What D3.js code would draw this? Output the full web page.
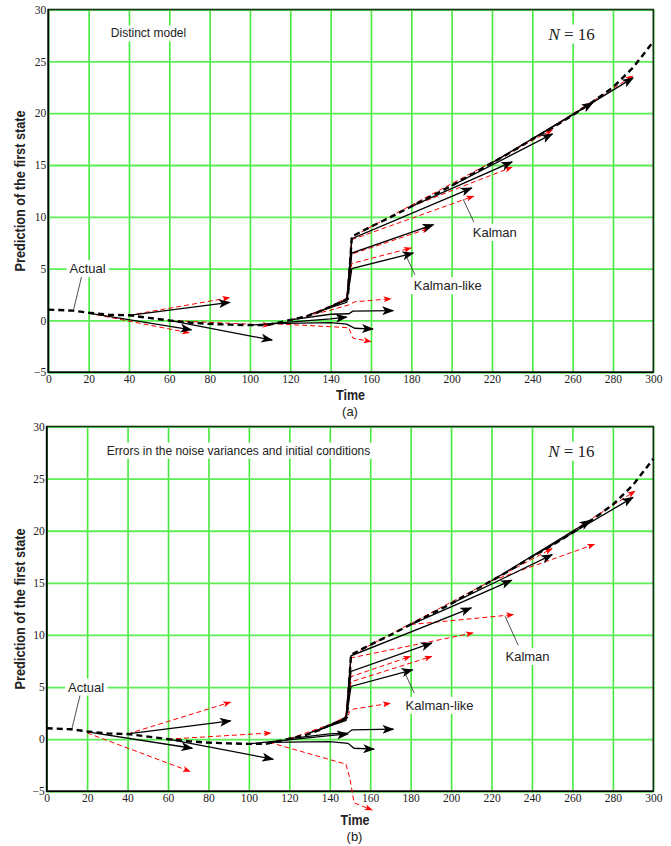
<!DOCTYPE html>
<html>
<head>
<meta charset="utf-8">
<script src="https://cdn.jsdelivr.net/npm/d3@7"></script>
<style>
body { margin: 0; background: #fff; }
svg { display: block; }
.lbl { font-family: "Liberation Sans", Arial, sans-serif; fill: #222; }
</style>
</head>
<body>
<div id="chart"></div>
<script>
var width = 671, height = 846;

var xTicks = d3.range(0, 301, 20);
var yTicks = [-5, 0, 5, 10, 15, 20, 25, 30];

// actual first state (dashed)
var actual = [[0,1.05],[12,0.95],[20,0.75],[30,0.55],[40,0.5],[50,0.25],[60,0.0],[70,-0.2],
  [80,-0.33],[90,-0.4],[100,-0.45],[108,-0.45],[114,-0.22],[120,0.05],[128,0.4],[135,0.9],
  [140,1.35],[145,1.75],[148.5,2.1],[150.5,8.1],[160,9.05],[170,10.0],[180,11.0],[190,12.0],
  [200,13.0],[210,14.1],[220,15.2],[230,16.3],[240,17.5],[250,18.6],[260,19.8],[270,21.1],
  [280,22.5],[290,24.4],[300,26.9]];

// (a) Kalman-like predictions, black solid
var kalmanLikeA = [
  [[20,0.7],[71,-0.9]],
  [[40,0.5],[90,1.75]],
  [[60,0.0],[111,-1.9]],
  [[100,-0.45],[140,0.15],[148,0.33]],
  [[110,-0.3],[140,-0.2],[148,-0.35],[152,-0.75],[161,-0.83]],
  [[120,0.05],[140,0.6],[149,0.65],[151,0.9],[171,0.95]],
  [[130,0.6],[148,1.75],[150.5,5.0],[181,6.5]],
  [[140,1.35],[148,1.95],[150.5,6.5],[191,9.25]],
  [[135,0.9],[148,2.0],[150.5,7.9],[210,12.8]],
  [[180,11.0],[230,15.3]],
  [[200,13.0],[250,18.0]],
  [[220,15.2],[270,21.0]],
  [[240,17.5],[290,23.4]]
];

// (a) Kalman predictions, red dashed
var kalmanA = [
  [[20,0.7],[70,-1.2]],
  [[40,0.5],[90,2.2]],
  [[60,0.0],[110,-0.45]],
  [[110,-0.3],[140,-0.6],[149,-0.7],[151,-1.7],[160,-2.05]],
  [[120,0.05],[140,1.0],[149,1.5],[152,1.8],[170,2.1]],
  [[130,0.6],[148,2.0],[150.5,5.5],[180,7.0]],
  [[140,1.35],[148,2.2],[150.5,6.4],[189,8.9]],
  [[135,0.9],[148,2.1],[150.5,7.8],[211,12.0]],
  [[180,11.0],[230,14.8]],
  [[145,1.75],[148,2.05],[150.5,8.05],[250,18.4]],
  [[220,15.2],[270,21.0]],
  [[240,17.5],[290,23.6]]
];

// (b) Kalman-like predictions, black solid
var kalmanLikeB = [
  [[20,0.7],[72,-0.87]],
  [[40,0.5],[91,1.76]],
  [[60,0.0],[112,-1.92]],
  [[100,-0.45],[140,0.35],[149,0.5]],
  [[110,-0.3],[140,-0.23],[149,-0.4],[152,-0.87],[162,-0.96]],
  [[120,0.05],[140,0.5],[149,0.6],[151,0.9],[171.5,0.96]],
  [[130,0.6],[148,1.8],[150.5,5.06],[181,6.66]],
  [[140,1.35],[148,2.0],[150.5,6.5],[190.5,9.23]],
  [[135,0.9],[148,2.0],[150.5,8.0],[210,12.6]],
  [[180,11.0],[230,15.25]],
  [[200,13.0],[250,17.7]],
  [[220,15.2],[269,21.0]],
  [[240,17.5],[290,23.2]]
];

// (b) Kalman predictions, red dashed
var kalmanB = [
  [[20,0.6],[71,-3.1]],
  [[40,0.5],[91,3.56]],
  [[60,0.0],[111,0.6]],
  [[110,-0.3],[148,-2.4],[150,-3.8],[152,-6.1],[161,-6.8]],
  [[120,0.05],[140,1.4],[148,1.9],[150,2.7],[152,2.9],[170,3.45]],
  [[130,0.6],[148,1.9],[150.5,6.0],[180,7.95]],
  [[140,1.35],[148,2.2],[150.5,5.5],[190.5,7.95]],
  [[135,0.9],[148,2.1],[150.5,7.8],[211,10.2]],
  [[180,11.0],[231,11.95]],
  [[145,1.75],[148,2.05],[150.5,8.05],[250,18.3]],
  [[220,15.2],[271,18.7]],
  [[240,17.5],[291,23.8]]
];

var panels = [
  { left: 48.3, right: 653.3, top: 9.5, bottom: 372.3, title: "Distinct model", titleT: 31,
    kl: kalmanLikeA, k: kalmanA, tag: "(a)", timeX: 350.5, timeY: 400, tagY: 416 },
  { left: 46.7, right: 653.3, top: 426.5, bottom: 791.3, title: "Errors in the noise variances and initial conditions", titleT: 29.7,
    kl: kalmanLikeB, k: kalmanB, tag: "(b)", timeX: 355, timeY: 825, tagY: 841 }
];

var svg = d3.select("#chart").append("svg")
    .attr("width", width)
    .attr("height", height);

svg.append("rect").attr("width", width).attr("height", height).attr("fill", "#fff");

var defs = svg.append("defs");
defs.append("marker")
    .attr("id", "headK")
    .attr("viewBox", "0 0 12 9")
    .attr("markerWidth", 12).attr("markerHeight", 9)
    .attr("refX", 11).attr("refY", 4.5)
    .attr("orient", "auto")
    .attr("markerUnits", "userSpaceOnUse")
  .append("path")
    .attr("d", "M0,0 L12,4.5 L0,9 L3,4.5 Z")
    .attr("fill", "#000");
defs.append("marker")
    .attr("id", "headR")
    .attr("viewBox", "0 0 8 6")
    .attr("markerWidth", 8).attr("markerHeight", 6)
    .attr("refX", 7.5).attr("refY", 3)
    .attr("orient", "auto")
    .attr("markerUnits", "userSpaceOnUse")
  .append("path")
    .attr("d", "M0,0 L8,3 L0,6 L2,3 Z")
    .attr("fill", "#f00");

function addLabel(g, txt, x, y, size, anchor) {
  var t = g.append("text")
      .attr("class", "lbl")
      .attr("x", x).attr("y", y)
      .attr("text-anchor", anchor || "start")
      .style("font-size", size + "px")
      .text(txt);
  var b = t.node().getBBox();
  g.insert("rect", function() { return t.node(); })
      .attr("x", b.x - 3).attr("y", b.y - 1)
      .attr("width", b.width + 6).attr("height", b.height + 2)
      .attr("fill", "#fff");
  return t;
}

function serifTicks(s) {
  s.select(".domain").remove();
  s.selectAll("text")
      .style("font-family", "'Liberation Serif','Times New Roman',serif")
      .style("font-size", "11.5px")
      .attr("fill", "#222");
}

panels.forEach(function(p, pi) {
  var x = d3.scaleLinear().domain([0, 300]).range([p.left, p.right]);
  var y = d3.scaleLinear().domain([-5, 30]).range([p.bottom, p.top]);
  var g = svg.append("g");
  var h = p.bottom - p.top, w = p.right - p.left;

  // grid
  g.append("g")
      .attr("transform", "translate(0," + p.bottom + ")")
      .call(d3.axisBottom(x).tickValues(xTicks).tickSize(-h).tickFormat(""))
      .call(function(s) {
        s.select(".domain").remove();
        s.selectAll("line").attr("stroke", "#46ea3c").attr("stroke-width", 1.6);
      });
  g.append("g")
      .attr("transform", "translate(" + p.left + ",0)")
      .call(d3.axisLeft(y).tickValues(yTicks).tickSize(-w).tickFormat(""))
      .call(function(s) {
        s.select(".domain").remove();
        s.selectAll("line").attr("stroke", "#5cee55").attr("stroke-width", 1.8);
      });

  // tick labels
  g.append("g")
      .attr("transform", "translate(0," + p.bottom + ")")
      .call(d3.axisBottom(x).tickValues(xTicks).tickSize(0).tickPadding(3).tickFormat(d3.format("d")))
      .call(serifTicks);
  g.append("g")
      .attr("transform", "translate(" + p.left + ",0)")
      .call(d3.axisLeft(y).tickValues(yTicks).tickSize(0).tickPadding(2)
        .tickFormat(function(d) { return d < 0 ? "\u2212" + Math.abs(d) : d; }))
      .call(serifTicks);

  // frame
  g.append("rect")
      .attr("x", p.left).attr("y", p.top)
      .attr("width", w).attr("height", h)
      .attr("fill", "none").attr("stroke", "#1c2e1c").attr("stroke-width", 1.6);
  g.append("path")
      .attr("d", "M" + p.left + "," + p.top + "V" + p.bottom + "H" + p.right)
      .attr("fill", "none").attr("stroke", "#000").attr("stroke-width", 1.6);

  // title labels
  addLabel(g, p.title, x(p.titleT), y(27.3), 12);
  var nt = g.append("text")
      .attr("x", x(248)).attr("y", y(27.1))
      .style("font-family", "'Liberation Serif','Times New Roman',serif")
      .style("font-size", "17px").attr("fill", "#222");
  nt.append("tspan").style("font-style", "italic").text("N");
  nt.append("tspan").text(" = 16");
  var nb = nt.node().getBBox();
  g.insert("rect", function() { return nt.node(); })
      .attr("x", nb.x - 3).attr("y", nb.y).attr("width", nb.width + 6).attr("height", nb.height)
      .attr("fill", "#fff");

  var line = d3.line().x(function(d) { return x(d[0]); }).y(function(d) { return y(d[1]); });

  // Kalman (red dashed)
  g.append("g").selectAll("path")
      .data(p.k)
      .enter().append("path")
      .attr("d", line)
      .attr("fill", "none")
      .attr("stroke", "#f00")
      .attr("stroke-width", 1)
      .attr("stroke-dasharray", "5,3")
      .attr("marker-end", "url(#headR)");

  // Kalman-like (black solid)
  g.append("g").selectAll("path")
      .data(p.kl)
      .enter().append("path")
      .attr("d", line)
      .attr("fill", "none")
      .attr("stroke", "#000")
      .attr("stroke-width", 1.3)
      .attr("marker-end", "url(#headK)");

  // Actual
  g.append("path")
      .datum(actual)
      .attr("d", line)
      .attr("fill", "none")
      .attr("stroke", "#000")
      .attr("stroke-width", 2.4)
      .attr("stroke-dasharray", "6,4");

  // annotations with leader lines
  var notes = [
    { txt: "Actual", at: [19.5, 5.0], from: [16.6, 4.3], to: [12.4, 0.95] },
    { txt: "Kalman", at: pi == 0 ? [221.4, 8.5] : [237.8, 7.95], from: pi == 0 ? [211, 9.5] : [233.2, 9.0], to: pi == 0 ? [205.7, 11.7] : [226.7, 11.8] },
    { txt: "Kalman-like", at: pi == 0 ? [198.1, 3.35] : [194.3, 3.25], from: [181.8, 4.4], to: [176.8, 6.5] }
  ];
  notes.forEach(function(n) {
    g.append("line")
        .attr("x1", x(n.from[0])).attr("y1", y(n.from[1]))
        .attr("x2", x(n.to[0])).attr("y2", y(n.to[1]))
        .attr("stroke", "#222").attr("stroke-width", 0.8);
    addLabel(g, n.txt, x(n.at[0]), y(n.at[1]) + 4.5, 13, "middle");
  });

  // axis titles
  g.append("text")
      .attr("class", "lbl")
      .attr("transform", "translate(25," + ((p.top + p.bottom) / 2) + ") rotate(-90)")
      .attr("text-anchor", "middle")
      .attr("textLength", 161)
      .attr("lengthAdjust", "spacingAndGlyphs")
      .style("font-size", "14px")
      .style("font-weight", "bold")
      .text("Prediction of the first state");
  g.append("text")
      .attr("class", "lbl")
      .attr("x", p.timeX).attr("y", p.timeY)
      .attr("text-anchor", "middle")
      .attr("textLength", 29)
      .attr("lengthAdjust", "spacingAndGlyphs")
      .style("font-size", "14px")
      .style("font-weight", "bold")
      .text("Time");
  g.append("text")
      .attr("class", "lbl")
      .attr("x", p.timeX - 0.5).attr("y", p.tagY)
      .attr("text-anchor", "middle")
      .style("font-size", "13px")
      .text(p.tag);
});
</script>
</body>
</html>
